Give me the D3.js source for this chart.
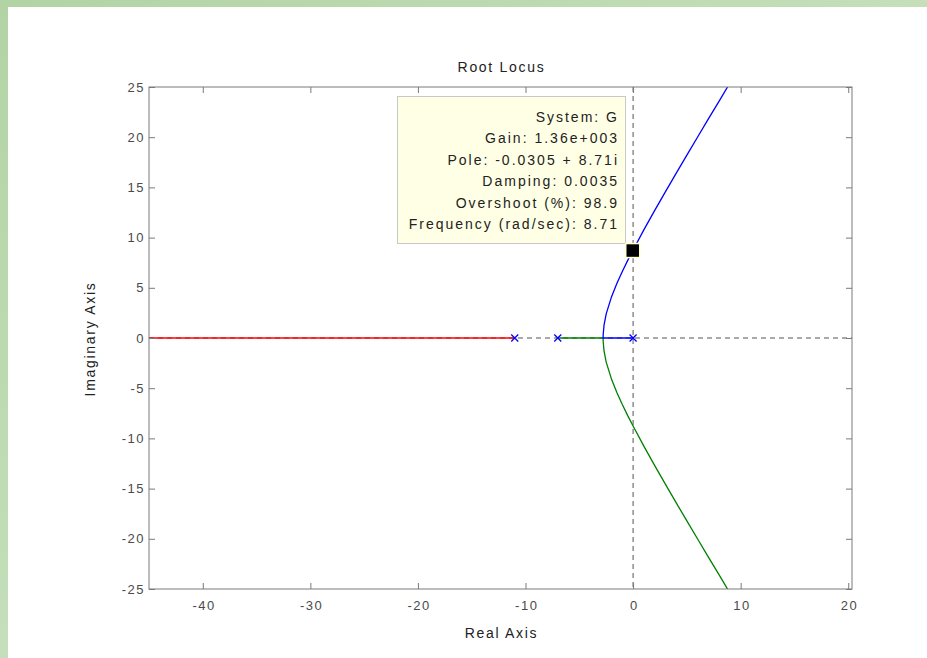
<!DOCTYPE html>
<html>
<head>
<meta charset="utf-8">
<script src="https://cdn.jsdelivr.net/npm/d3@7"></script>
<style>
	html, body { margin: 0; padding: 0; background: #b9d8ae; }
	svg { display: block; font-family: "Liberation Sans", Arial, sans-serif; }
</style>
</head>
<body>
<svg id="chart" width="927" height="658"></svg>
<script>
"use strict";

//ticks
var x_ticks = [-40, -30, -20, -10, 0, 10, 20],
	y_ticks = [-25, -20, -15, -10, -5, 0, 5, 10, 15, 20, 25];

//open loop poles (x markers)
var poles = [-11, -7, 0];

//branches, [real, imag]
var red_branch = [[-11, 0], [-48, 0]];
var green_branch = [[-7, 0], [-2.79, 0], [-2.78, -0.33], [-2.7, -1.29], [-2.5, -2.4], [-2, -4.12], [-1.5, -5.45],
	[-1, -6.63], [-0.5, -7.73], [0, -8.77], [1, -10.77], [2, -12.69], [3, -14.56], [4, -16.4],
	[5, -18.22], [6, -20.02], [7, -21.82], [8, -23.6], [9, -25.4]];
var blue_branch = [[0, 0], [-2.79, 0], [-2.78, 0.33], [-2.7, 1.29], [-2.5, 2.4], [-2, 4.12], [-1.5, 5.45],
	[-1, 6.63], [-0.5, 7.73], [0, 8.77], [1, 10.77], [2, 12.69], [3, 14.56], [4, 16.4],
	[5, 18.22], [6, 20.02], [7, 21.82], [8, 23.6], [9, 25.4]];

//data tip
var tip_point = [-0.0305, 8.71];
var tip_lines = ["System: G", "Gain: 1.36e+003", "Pole: -0.0305 + 8.71i", "Damping: 0.0035",
	"Overshoot (%): 98.9", "Frequency (rad/sec): 8.71"];

var plot_left = 149, plot_right = 852, plot_top = 87, plot_bottom = 589,
	axis_col = "#7a7a7a",
	text_col = "#4a4a4a";

var svg = d3.select("#chart");

//white panel on the green page
var page_grad = svg.append("defs").append("linearGradient").attr("id", "page_grad")
	.attr("x1", 0).attr("y1", 0).attr("x2", 1).attr("y2", 1);
page_grad.append("stop").attr("offset", "0%").attr("stop-color", "#b2d4a4");
page_grad.append("stop").attr("offset", "50%").attr("stop-color", "#c4dfba");
page_grad.append("stop").attr("offset", "100%").attr("stop-color", "#b5d6a9");
svg.append("rect").attr("x", 0).attr("y", 0).attr("width", 927).attr("height", 658).attr("fill", "url(#page_grad)");
svg.append("rect").attr("x", 8).attr("y", 7).attr("width", 919).attr("height", 651).attr("fill", "#ffffff");

var x = d3.scaleLinear().domain([-45, 20.35]).range([plot_left, plot_right]);
var y = d3.scaleLinear().domain([-25, 25]).range([plot_bottom, plot_top]);

svg.append("clipPath").attr("id", "plot_clip")
	.append("rect").attr("x", plot_left).attr("y", plot_top)
	.attr("width", plot_right - plot_left).attr("height", plot_bottom - plot_top);

var plot = svg.append("g").attr("clip-path", "url(#plot_clip)");

//dashed zero lines
plot.append("line")
	.attr("x1", x(0)).attr("x2", x(0)).attr("y1", plot_top).attr("y2", plot_bottom)
	.attr("stroke", "#555").attr("stroke-dasharray", "5,4").attr("stroke-width", 1);
plot.append("line")
	.attr("x1", plot_left).attr("x2", plot_right).attr("y1", y(0)).attr("y2", y(0))
	.attr("stroke", "#555").attr("stroke-dasharray", "5,4").attr("stroke-width", 1);

var line = d3.line().x(function(d) { return x(d[0]); }).y(function(d) { return y(d[1]); });

[[red_branch, "#ff0000"], [green_branch, "#008000"], [blue_branch, "#0000ff"]].forEach(function(b) {
	plot.append("path")
		.attr("d", line(b[0]))
		.attr("fill", "none")
		.attr("stroke", b[1])
		.attr("stroke-width", 1.3);
});

//pole markers
plot.selectAll(".pole").data(poles).enter().append("path")
	.attr("class", "pole")
	.attr("d", function(d) {
		var cx = x(d), cy = y(0), r = 3.5;
		return "M" + (cx - r) + "," + (cy - r) + "L" + (cx + r) + "," + (cy + r) +
			"M" + (cx - r) + "," + (cy + r) + "L" + (cx + r) + "," + (cy - r);
	})
	.attr("stroke", "#0000ff")
	.attr("stroke-width", 1.3);

//axes box with inward ticks
var axes = svg.append("g");
axes.append("rect")
	.attr("x", plot_left).attr("y", plot_top)
	.attr("width", plot_right - plot_left).attr("height", plot_bottom - plot_top)
	.attr("fill", "none").attr("stroke", axis_col).attr("stroke-width", 1);

var fmt = function(d) { return d < 0 ? "-" + Math.abs(d) : String(d); };

var x_axis = axes.append("g").attr("transform", "translate(0," + plot_bottom + ")")
	.call(d3.axisBottom(x).tickValues(x_ticks).tickSizeInner(-6).tickSizeOuter(0).tickPadding(12).tickFormat(fmt));
axes.append("g").attr("transform", "translate(0," + plot_top + ")")
	.call(d3.axisTop(x).tickValues(x_ticks).tickSizeInner(-6).tickSizeOuter(0).tickFormat(""));
var y_axis = axes.append("g").attr("transform", "translate(" + plot_left + ",0)")
	.call(d3.axisLeft(y).tickValues(y_ticks).tickSizeInner(-6).tickSizeOuter(0).tickPadding(4).tickFormat(fmt));
axes.append("g").attr("transform", "translate(" + plot_right + ",0)")
	.call(d3.axisRight(y).tickValues(y_ticks).tickSizeInner(-6).tickSizeOuter(0).tickFormat(""));

axes.selectAll(".domain").remove();
axes.selectAll(".tick line").attr("stroke", axis_col);
[x_axis, y_axis].forEach(function(a) {
	a.selectAll(".tick text")
		.attr("fill", text_col)
		.style("font-size", "13px")
		.style("letter-spacing", "1.5px")
		.style("font-family", "'Liberation Sans', Arial, sans-serif");
});
//letter spacing trails the last glyph, nudge the centred labels back
x_axis.selectAll(".tick text").attr("dx", "0.75px");

//titles
var label_style = function(t) {
	t.attr("text-anchor", "middle").attr("fill", "#222")
		.style("font-size", "14px").style("letter-spacing", "1.7px");
};
svg.append("text").attr("x", (plot_left + plot_right) / 2 + 1).attr("y", 72).call(label_style).text("Root Locus");
svg.append("text").attr("x", (plot_left + plot_right) / 2 + 1).attr("y", 638).call(label_style).text("Real Axis");
svg.append("text").attr("transform", "translate(95," + ((plot_top + plot_bottom) / 2 + 1) + ") rotate(-90)")
	.call(label_style).text("Imaginary Axis");

//data tip box
var tip = svg.append("g");
tip.append("rect")
	.attr("x", 397.5).attr("y", 96.5).attr("width", 228).attr("height", 147)
	.attr("fill", "#ffffe6").attr("stroke", "#c8c8c8").attr("stroke-width", 1);
tip.selectAll("text").data(tip_lines).enter().append("text")
	.attr("x", 619)
	.attr("y", function(d, i) { return 122 + i * 21.4; })
	.attr("text-anchor", "end")
	.attr("fill", "#222")
	.style("font-size", "14px")
	.style("letter-spacing", "2px")
	.text(function(d) { return d; });

//data tip marker
tip.append("rect")
	.attr("x", x(tip_point[0]) - 7).attr("y", y(tip_point[1]) - 7)
	.attr("width", 14).attr("height", 14)
	.attr("fill", "#000").attr("stroke", "#ffffd0").attr("stroke-width", 1.5);
</script>
</body>
</html>
